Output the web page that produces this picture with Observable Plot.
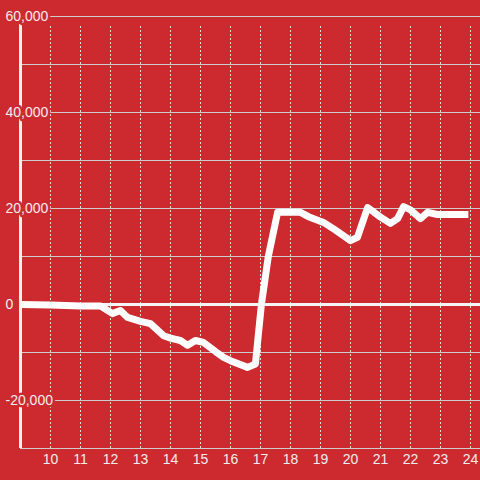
<!DOCTYPE html>
<html>
<head>
<meta charset="utf-8">
<script src="https://cdn.jsdelivr.net/npm/d3@7"></script>
<script src="https://cdn.jsdelivr.net/npm/@observablehq/plot@0.6"></script>
<style>
  html, body { margin: 0; padding: 0; background: #cc2a2f; }
  svg { display: block; }
</style>
</head>
<body>
<div id="chart"></div>
<script>
const hours = [9.0, 10.0, 11.0, 11.67, 12.07, 12.33, 12.57, 13.0, 13.33, 13.77, 14.0, 14.33, 14.57, 14.83, 15.1, 15.5, 15.77, 16.0, 16.57, 16.83, 17.03, 17.26, 17.57, 18.33, 18.6, 19.1, 19.5, 20.0, 20.23, 20.57, 21.0, 21.33, 21.57, 21.77, 22.0, 22.33, 22.57, 22.9, 23.93];
const values = [0, -100, -300, -300, -1900, -1250, -2700, -3500, -4000, -6500, -7000, -7500, -8500, -7500, -7900, -9800, -11000, -11700, -13100, -12400, 0, 10000, 19200, 19200, 18300, 17100, 15500, 13300, 14000, 20200, 18200, 16900, 17900, 20400, 19700, 17900, 19200, 18750, 18750];
const xTicks = [10, 11, 12, 13, 14, 15, 16, 17, 18, 19, 20, 21, 22, 23, 24];
const yGrid = [-30000, -20000, -10000, 0, 10000, 20000, 30000, 40000, 50000, 60000];
const yLabels = [-20000, 0, 20000, 40000, 60000];

const data = hours.map((h, i) => ({hour: h, value: values[i]}));
const bg = "#cc2a2f";
const yTop = 58333;

const chart = Plot.plot({
  width: 480,
  height: 480,
  marginLeft: 20,
  marginRight: 0,
  marginTop: 16,
  marginBottom: 32,
  style: {background: bg, fontFamily: "Liberation Sans, Arial, sans-serif", fontSize: "14px", color: "#eee"},
  x: {domain: [9, 24 + 1/3]},
  y: {domain: [-30000, 60000]},
  marks: [
    Plot.ruleX(xTicks, {y1: -30000, y2: yTop, stroke: "#ddd", strokeDasharray: "2,2", strokeWidth: 1}),
    Plot.ruleY(yGrid, {stroke: "#ccc", strokeWidth: 1}),
    Plot.ruleX([9], {y1: -30000, y2: yTop, stroke: "#f2f2f2", strokeWidth: 3}),
    Plot.axisY(yLabels, {anchor: "left", tickSize: 0, tickPadding: 0, dx: -15, textAnchor: "start",
      tickFormat: d => d.toLocaleString("en-US"), fill: "#eee", fontSize: 14,
      textStroke: bg, textStrokeWidth: 5, label: null}),
    Plot.axisX(xTicks, {anchor: "bottom", tickSize: 0, tickPadding: 6, fill: "#eee", fontSize: 14, label: null, tickFormat: d => String(d)}),
    Plot.ruleY([0], {x1: 9.05, x2: 24 + 1/3, stroke: "#f5f5f5", strokeWidth: 3}),
    Plot.line(data, {x: "hour", y: "value", stroke: "#fff", strokeWidth: 7, strokeLinejoin: "round", strokeLinecap: "butt"})
  ]
});
document.getElementById("chart").appendChild(chart);
</script>
</body>
</html>
